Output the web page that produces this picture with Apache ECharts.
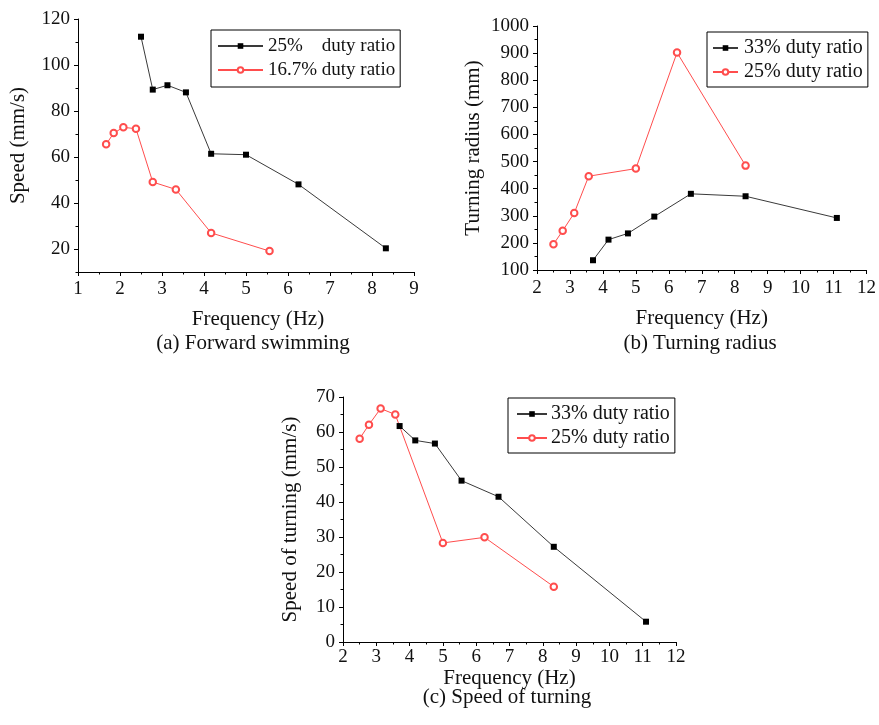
<!DOCTYPE html>
<html>
<head>
<meta charset="utf-8">
<script src="https://cdn.jsdelivr.net/npm/echarts@6/dist/echarts.min.js"></script>
<style>
html,body{margin:0;padding:0;background:#fff;}
#chart{width:879px;height:725px;}
</style>
</head>
<body>
<div id="chart"></div>
<script>
// (a) Forward swimming
var fwdFreq25 = [2.5, 2.78, 3.13, 3.57, 4.17, 5.0, 6.25, 8.33];
var fwdSpeed25 = [112.3, 89.3, 91.2, 88.1, 61.4, 61.0, 48.1, 20.3];
var fwdFreq167 = [1.67, 1.85, 2.08, 2.38, 2.78, 3.33, 4.17, 5.56];
var fwdSpeed167 = [65.5, 70.4, 72.9, 72.3, 49.1, 45.9, 27.0, 19.1];
// (b) Turning radius
var radFreq33 = [3.70, 4.17, 4.76, 5.56, 6.67, 8.33, 11.1];
var radius33 = [136, 212, 235, 297, 381, 372, 292];
var radFreq25 = [2.5, 2.78, 3.13, 3.57, 5.0, 6.25, 8.33];
var radius25 = [195, 245, 310, 446, 474, 902, 485];
// (c) Speed of turning
var turnFreq33 = [3.70, 4.17, 4.76, 5.56, 6.67, 8.33, 11.1];
var turnSpeed33 = [61.7, 57.6, 56.7, 46.1, 41.5, 27.2, 5.8];
var turnFreq25 = [2.5, 2.78, 3.13, 3.57, 5.0, 6.25, 8.33];
var turnSpeed25 = [58.1, 62.1, 66.7, 65.0, 28.3, 29.9, 15.8];

var fwdMajorTicks = [20, 40, 60, 80, 100, 120];
var fwdMinorTicks = [10, 30, 50, 70, 90, 110];

var names = {
  a1: '25%    duty ratio', a2: '16.7% duty ratio',
  b1: '33% duty ratio', b2: '25% duty ratio'
};
var captions = ['(a) Forward swimming', '(b) Turning radius', '(c) Speed of turning'];

function zip(xs, ys) { return xs.map(function (x, i) { return [x, ys[i]]; }); }

var FONT = 'Liberation Serif';
var BLACK_LINE = '#3a3a3a';
var RED = '#ff4d4d';
function plain(v) { return String(v); }

function xAxisCfg(grid, min, max, gap, pad, labMargin) {
  return {
    type: 'value', gridIndex: grid, min: min, max: max, interval: 1,
    name: 'Frequency (Hz)', nameLocation: 'middle', nameGap: gap,
    nameTextStyle: { fontFamily: FONT, fontSize: 21, color: '#111', align: 'center', verticalAlign: 'middle', padding: pad || 0 },
    axisLine: { show: true, onZero: false, lineStyle: { color: '#000', width: 1 } },
    axisTick: { show: true, length: 4, lineStyle: { color: '#000' } },
    minorTick: { show: true, splitNumber: 2, length: 2.5, lineStyle: { color: '#000' } },
    axisLabel: { fontFamily: FONT, fontSize: 19, color: '#111', margin: labMargin, formatter: plain },
    splitLine: { show: false }
  };
}
function yAxisCfg(grid, min, max, interval, name, gap) {
  return {
    type: 'value', gridIndex: grid, min: min, max: max, interval: interval,
    name: name, nameLocation: 'middle', nameGap: gap,
    nameTextStyle: { fontFamily: FONT, fontSize: 21, color: '#111', align: 'center', verticalAlign: 'middle' },
    axisLine: { show: true, onZero: false, lineStyle: { color: '#000', width: 1 } },
    axisTick: { show: true, length: 4, lineStyle: { color: '#000' } },
    minorTick: { show: true, splitNumber: 2, length: 2.5, lineStyle: { color: '#000' } },
    axisLabel: { fontFamily: FONT, fontSize: 19, color: '#111', margin: 8, formatter: plain },
    splitLine: { show: false }
  };
}

var yA = yAxisCfg(0, 10, 120, 10, 'Speed (mm/s)', 60);
yA.minorTick = { show: false };
yA.axisLabel.customValues = fwdMajorTicks;
yA.axisTick.customValues = fwdMajorTicks;
var yAminor = {
  type: 'value', gridIndex: 0, min: 10, max: 120, interval: 10,
  axisLine: { show: false }, axisLabel: { show: false }, splitLine: { show: false },
  axisTick: { show: true, length: 2.5, customValues: fwdMinorTicks, lineStyle: { color: '#000' } },
  position: 'left'
};

function blackSeries(name, xi, yi, data) {
  return {
    type: 'line', name: name, xAxisIndex: xi, yAxisIndex: yi, data: data,
    symbol: 'rect', symbolSize: 6, showSymbol: true,
    itemStyle: { color: '#000' },
    lineStyle: { color: BLACK_LINE, width: 1 },
    emphasis: { disabled: true }, z: 3
  };
}
function redSeries(name, xi, yi, data) {
  return {
    type: 'line', name: name, xAxisIndex: xi, yAxisIndex: yi, data: data,
    symbol: 'emptyCircle', symbolSize: 6.5, showSymbol: true,
    itemStyle: { color: RED, borderColor: RED, borderWidth: 1 },
    lineStyle: { color: RED, width: 1 },
    emphasis: { disabled: true }, z: 2
  };
}
function legendCfg(data, left, top, itemWidth, fontSize, pad, gap) {
  return {
    data: data, left: left, top: top, orient: 'vertical',
    itemWidth: itemWidth, itemHeight: 7, itemGap: 2,
    padding: pad, borderColor: '#000', borderWidth: 1, borderRadius: 0,
    backgroundColor: '#fff', selectedMode: false,
    textStyle: { fontFamily: FONT, fontSize: fontSize, color: '#111', lineHeight: 22, padding: [0, 0, 0, gap - 5] }
  };
}

var option = {
  backgroundColor: '#fff',
  animation: false,
  grid: [
    { left: 78, top: 19, width: 336, height: 253 },
    { left: 537, top: 26, width: 332, height: 244 },
    { left: 343, top: 397, width: 333, height: 245 }
  ],
  xAxis: [
    xAxisCfg(0, 1, 9, 47, [0, 0, 0, 24], 8),
    xAxisCfg(1, 2, 12, 48, 0, 9),
    xAxisCfg(2, 2, 12, 28, 0, 6)
  ],
  yAxis: [
    yA,
    yAxisCfg(1, 100, 1000, 100, 'Turning radius (mm)', 64),
    yAxisCfg(2, 0, 70, 10, 'Speed of turning (mm/s)', 53),
    yAminor
  ],
  legend: [
    legendCfg([names.a1, names.a2], 211, 30, 45, 19, [5, 5, 6, 6], 5),
    legendCfg([names.b1, names.b2], 707, 32, 25, 20, [5, 5, 4, 5], 6),
    legendCfg([names.b1, names.b2], 508, 398, 30, 20, [5, 5, 4, 8], 4)
  ],
  series: [
    blackSeries(names.a1, 0, 0, zip(fwdFreq25, fwdSpeed25)),
    redSeries(names.a2, 0, 0, zip(fwdFreq167, fwdSpeed167)),
    blackSeries(names.b1, 1, 1, zip(radFreq33, radius33)),
    redSeries(names.b2, 1, 1, zip(radFreq25, radius25)),
    blackSeries(names.b1, 2, 2, zip(turnFreq33, turnSpeed33)),
    redSeries(names.b2, 2, 2, zip(turnFreq25, turnSpeed25))
  ],
  graphic: [
    { type: 'text', x: 253, y: 343, style: { text: captions[0], font: '21px "Liberation Serif"', fill: '#111', textAlign: 'center', textVerticalAlign: 'middle', align: 'center', verticalAlign: 'middle' } },
    { type: 'text', x: 700, y: 343, style: { text: captions[1], font: '21px "Liberation Serif"', fill: '#111', textAlign: 'center', textVerticalAlign: 'middle', align: 'center', verticalAlign: 'middle' } },
    { type: 'text', x: 507, y: 697, style: { text: captions[2], font: '21px "Liberation Serif"', fill: '#111', textAlign: 'center', textVerticalAlign: 'middle', align: 'center', verticalAlign: 'middle' } }
  ]
};

var chart = echarts.init(document.getElementById('chart'), null, { renderer: 'canvas' });
chart.setOption(option);
</script>
</body>
</html>
